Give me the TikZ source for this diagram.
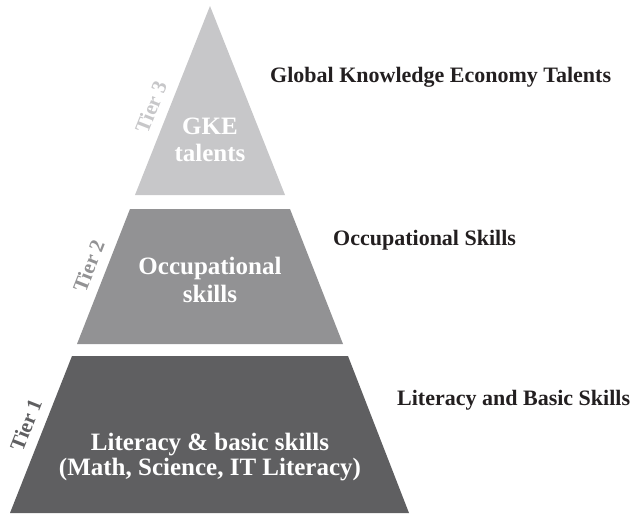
\documentclass[tikz,border=0pt]{standalone}
\usepackage{fontspec}
\setmainfont{Liberation Serif}
\definecolor{tierA}{HTML}{5F5F61}
\definecolor{tierB}{HTML}{929294}
\definecolor{tierC}{HTML}{C7C7C9}
\definecolor{inkdark}{HTML}{231F20}
\begin{document}
\begin{tikzpicture}[x=1pt,y=-1pt,
  tiertext/.style={text=white,align=center,inner sep=0pt},
  tierlabel/.style={font=\bfseries\fontsize{21}{24}\selectfont,sloped,above=7pt,inner sep=3pt},
  sidelabel/.style={anchor=base west,font=\bfseries\fontsize{22}{26}\selectfont,text=inkdark,inner sep=0pt}]
\useasboundingbox (0,0) rectangle (632,515);
% Tier 1
\coordinate (t1bl) at (10,513);
\coordinate (t1br) at (409,513);
\coordinate (t1tr) at (348,356);
\coordinate (t1tl) at (72,356);
\fill[tierA] (t1bl) -- (t1br) -- (t1tr) -- (t1tl) -- cycle;
% Tier 2
\coordinate (t2bl) at (77,344);
\coordinate (t2br) at (343,344);
\coordinate (t2tr) at (290,209);
\coordinate (t2tl) at (130,209);
\fill[tierB] (t2bl) -- (t2br) -- (t2tr) -- (t2tl) -- cycle;
% Tier 3
\coordinate (t3bl) at (135,195);
\coordinate (t3br) at (285,195);
\coordinate (t3top) at (210,6);
\fill[tierC] (t3bl) -- (t3br) -- (t3top) -- cycle;
% tier labels
\path (t1bl) -- (t1tl) node[tierlabel,pos=0.52,text=tierA] (tierone) {Tier 1};
\path (t2bl) -- (t2tl) node[tierlabel,pos=0.53,text=tierB] (tiertwo) {Tier 2};
\path (t3bl) -- (t3top) node[tierlabel,pos=0.43,text=tierC] (tierthree) {Tier 3};
% tier texts
\node[tiertext,font=\bfseries\fontsize{25}{27}\selectfont] (gke) at (210,140) {GKE\\talents};
\node[tiertext,font=\bfseries\fontsize{25}{28}\selectfont] (occ) at (210,279.5) {Occupational\\skills};
\node[tiertext,font=\bfseries\fontsize{25}{25}\selectfont] (lit) at (210,457) {Literacy \& basic skills\\(Math, Science, IT Literacy)};
% side labels
\node[sidelabel] (sgke) at (270,82) {Global Knowledge Economy Talents};
\node[sidelabel] (socc) at (333,245) {Occupational Skills};
\node[sidelabel] (slit) at (397,405) {Literacy and Basic Skills};
\end{tikzpicture}
\end{document}
